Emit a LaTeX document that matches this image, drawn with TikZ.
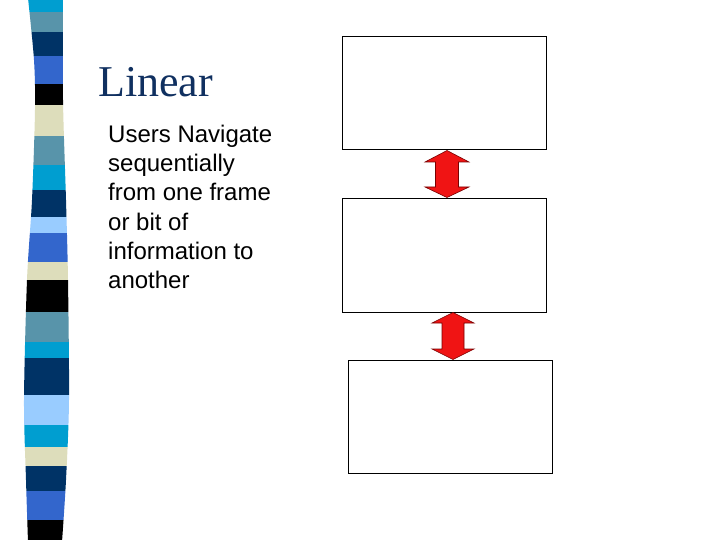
\documentclass[tikz,border=0pt]{standalone}
\usepackage{fontspec}
\setmainfont{Liberation Serif}
\newfontfamily\arialf{Liberation Sans}
\definecolor{scyan}{RGB}{0,158,208}
\definecolor{ssteel}{RGB}{88,148,170}
\definecolor{snavy}{RGB}{0,51,102}
\definecolor{sroyal}{RGB}{51,102,204}
\definecolor{slight}{RGB}{153,204,255}
\definecolor{sbeige}{RGB}{221,221,187}
\definecolor{titleblue}{RGB}{16,48,96}
\definecolor{arrred}{RGB}{240,20,20}
\definecolor{arredge}{RGB}{120,0,0}
\tikzset{
  framebox/.style={draw=black, line width=1pt, fill=white},
  dblarrow/.style={fill=arrred, draw=arredge, line width=0.6pt, line join=miter},
  bodytext/.style={anchor=base west, font=\arialf\fontsize{24}{29}\selectfont, inner sep=0pt},
}
\begin{document}
\begin{tikzpicture}[x=1pt,y=-1pt]
\useasboundingbox (0,0) rectangle (720,540);
\fill[white] (0,0) rectangle (720,540);
% striped ribbon
\begin{scope}
\clip plot[smooth] coordinates {(28,-2) (34,60) (35,110) (32,200) (27,280) (24,400) (26,480) (28,542)}
  -- plot[smooth] coordinates {(62,542) (66,480) (69,400) (68,280) (66,200) (63,100) (63,-2)} -- cycle;
\foreach \ya/\yb/\c in {-2/12/scyan, 12/32/ssteel, 32/56/snavy, 56/84/sroyal, 84/105/black,
  105/136/sbeige, 136/165/ssteel, 165/190/scyan, 190/217/snavy, 217/233/slight, 233/262/sroyal,
  262/280/sbeige, 280/312/black, 312/342/ssteel, 342/358/scyan, 358/395/snavy, 395/425/slight,
  425/447/scyan, 447/466/sbeige, 466/491/snavy, 491/520/sroyal, 520/542/black}
  \fill[\c] (0,\ya) rectangle (100,\yb);
\end{scope}
% title and body
\node[anchor=base west, inner sep=0pt, text=titleblue, font=\fontsize{44}{50}\selectfont] (title) at (98,97) {Linear};
\node[bodytext] (t1) at (108,143) {Users Navigate};
\node[bodytext] (t2) at (108,172) {sequentially};
\node[bodytext] (t3) at (108,201) {from one frame};
\node[bodytext] (t4) at (108,230) {or bit of};
\node[bodytext] (t5) at (108,259) {information to};
\node[bodytext] (t6) at (108,288) {another};
% frames
\draw[framebox] (342.3,36.7) rectangle (546.3,150) coordinate (b1);
\draw[framebox] (342.3,198.7) rectangle (546.3,312.3);
\draw[framebox] (348.3,360.3) rectangle (552.3,473.7);
% arrows
\draw[dblarrow] (447,150.5) -- (469,162) -- (458.5,162) -- (458.5,187) -- (469,187) -- (447,197.5)
  -- (425,187) -- (435.5,187) -- (435.5,162) -- (425,162) -- cycle;
\draw[dblarrow] (453,312.5) -- (474,323) -- (464,323) -- (464,349) -- (474,349) -- (453,359.5)
  -- (432,349) -- (442,349) -- (442,323) -- (432,323) -- cycle;
\end{tikzpicture}
\end{document}
